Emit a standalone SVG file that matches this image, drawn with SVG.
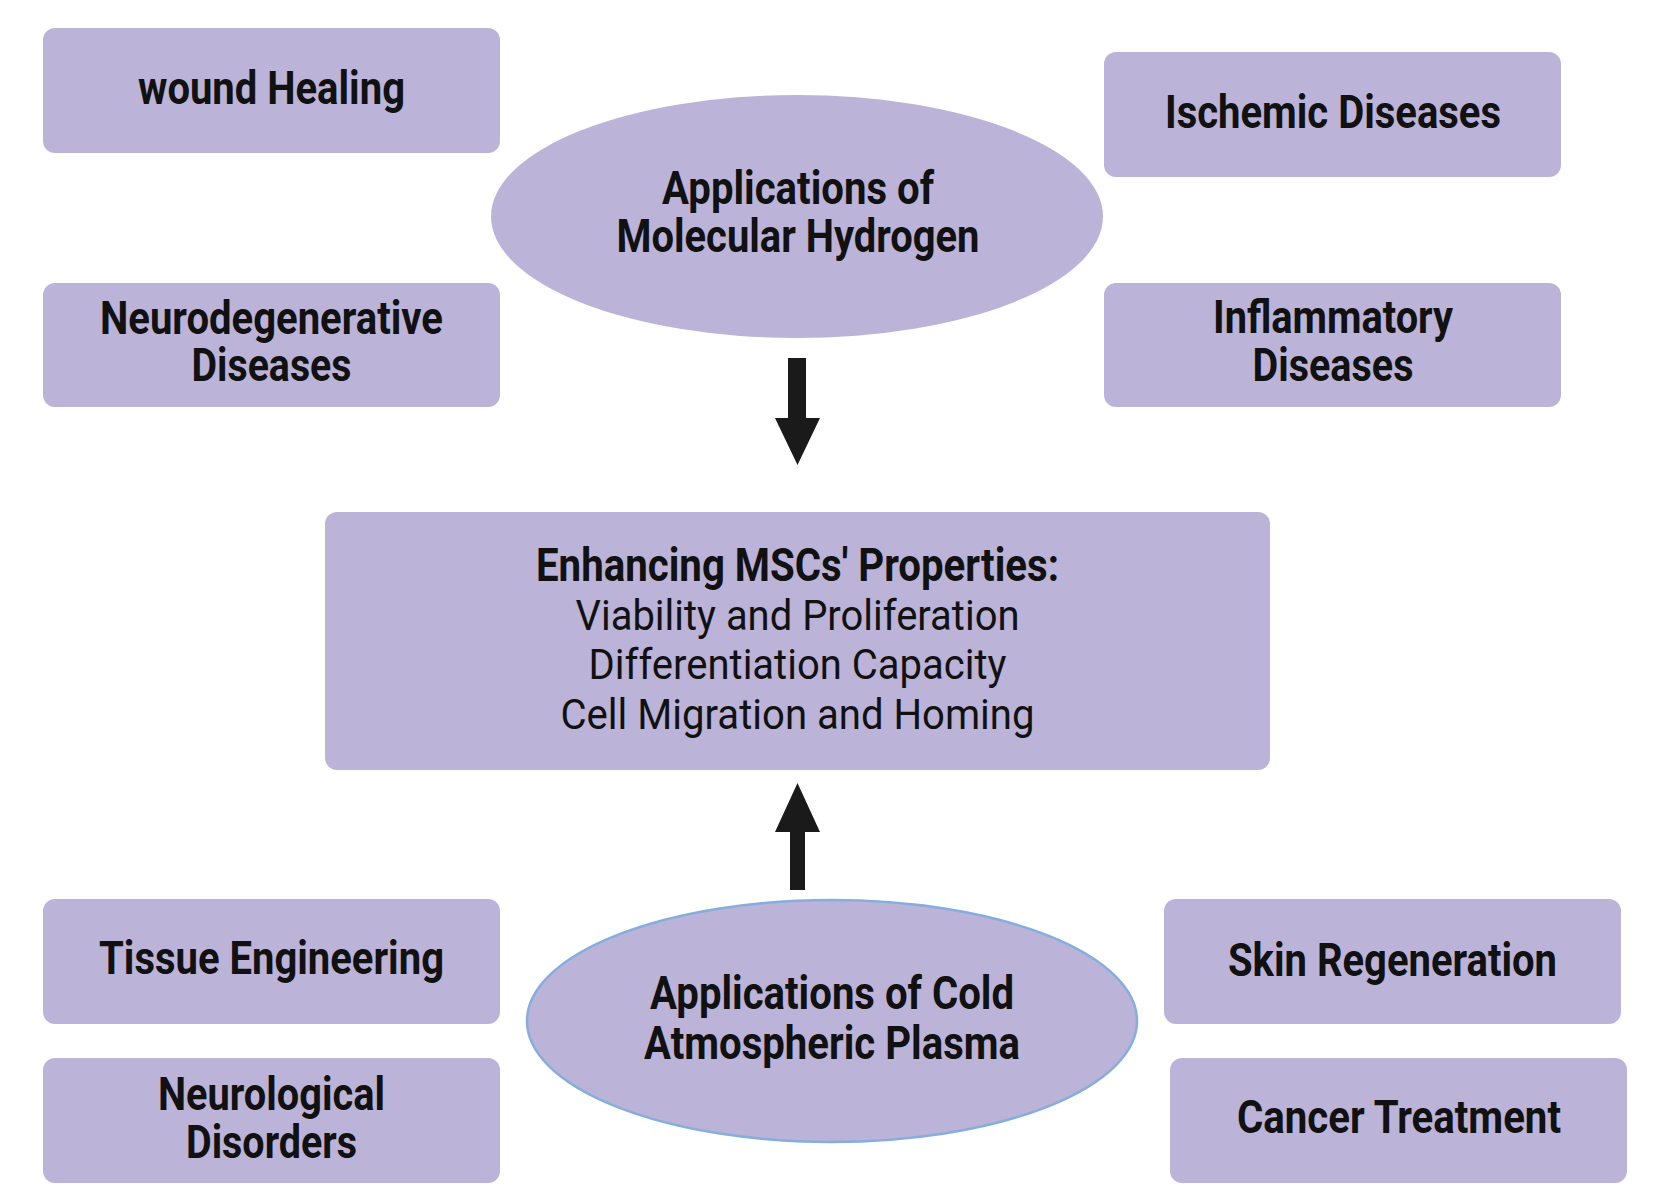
<svg xmlns="http://www.w3.org/2000/svg" width="1653" height="1203" viewBox="0 0 1653 1203">
<style>
.box{fill:#bbb3d8;}
.ell{fill:#bbb3d8;}
.t{font-family:Roboto,"Liberation Sans",sans-serif;font-weight:700;font-size:46px;fill:#111;text-anchor:middle;}
.r{font-family:Roboto,"Liberation Sans",sans-serif;font-weight:400;font-size:43px;fill:#111;text-anchor:middle;}
.arrow{fill:#1a1a1a;}
</style>
<rect width="1653" height="1203" fill="#ffffff"/>
<g id="wound-healing">
<rect class="box" x="43" y="28" width="457" height="125" rx="12"/>
<text class="t" x="271.5" y="104" textLength="267" lengthAdjust="spacingAndGlyphs">wound Healing</text>
</g>
<g id="neurodegenerative">
<rect class="box" x="43" y="283" width="457" height="124" rx="12"/>
<text class="t" x="271.5" y="334" textLength="343" lengthAdjust="spacingAndGlyphs">Neurodegenerative</text>
<text class="t" x="271.5" y="381" textLength="160" lengthAdjust="spacingAndGlyphs">Diseases</text>
</g>
<g id="ischemic">
<rect class="box" x="1104" y="52" width="457" height="125" rx="12"/>
<text class="t" x="1333" y="128" textLength="336" lengthAdjust="spacingAndGlyphs">Ischemic Diseases</text>
</g>
<g id="inflammatory">
<rect class="box" x="1104" y="283" width="457" height="124" rx="12"/>
<text class="t" x="1333" y="333" textLength="240" lengthAdjust="spacingAndGlyphs">Inflammatory</text>
<text class="t" x="1333" y="381" textLength="161" lengthAdjust="spacingAndGlyphs">Diseases</text>
</g>
<g id="hydrogen">
<ellipse class="ell" cx="797" cy="216.5" rx="306" ry="121.5"/>
<text class="t" x="798" y="204" textLength="272" lengthAdjust="spacingAndGlyphs">Applications of</text>
<text class="t" x="798" y="252" textLength="363" lengthAdjust="spacingAndGlyphs">Molecular Hydrogen</text>
</g>
<g id="mscs">
<rect class="box" x="325" y="512" width="945" height="258" rx="12"/>
<text class="t" x="797.5" y="581" textLength="523" lengthAdjust="spacingAndGlyphs">Enhancing MSCs' Properties:</text>
<text class="r" x="797.5" y="630" textLength="444" lengthAdjust="spacingAndGlyphs">Viability and Proliferation</text>
<text class="r" x="797.5" y="679" textLength="418" lengthAdjust="spacingAndGlyphs">Differentiation Capacity</text>
<text class="r" x="797.5" y="729" textLength="474" lengthAdjust="spacingAndGlyphs">Cell Migration and Homing</text>
</g>
<g id="plasma">
<ellipse class="ell" cx="832" cy="1021" rx="305" ry="121" stroke="#86aedc" stroke-width="2.5"/>
<text class="t" x="832" y="1009" textLength="364" lengthAdjust="spacingAndGlyphs">Applications of Cold</text>
<text class="t" x="832" y="1059" textLength="376" lengthAdjust="spacingAndGlyphs">Atmospheric Plasma</text>
</g>
<g id="tissue">
<rect class="box" x="43" y="899" width="457" height="125" rx="12"/>
<text class="t" x="271.5" y="974" textLength="345" lengthAdjust="spacingAndGlyphs">Tissue Engineering</text>
</g>
<g id="neurological">
<rect class="box" x="43" y="1058" width="457" height="125" rx="12"/>
<text class="t" x="271.5" y="1110" textLength="227" lengthAdjust="spacingAndGlyphs">Neurological</text>
<text class="t" x="271.5" y="1158" textLength="171" lengthAdjust="spacingAndGlyphs">Disorders</text>
</g>
<g id="skin">
<rect class="box" x="1164" y="899" width="457" height="125" rx="12"/>
<text class="t" x="1392.5" y="976" textLength="329" lengthAdjust="spacingAndGlyphs">Skin Regeneration</text>
</g>
<g id="cancer">
<rect class="box" x="1170" y="1058" width="457" height="125" rx="12"/>
<text class="t" x="1399" y="1133" textLength="324" lengthAdjust="spacingAndGlyphs">Cancer Treatment</text>
</g>
<g id="connectors">
<polygon class="arrow" points="788,358 806,358 806,418 820,418 797.5,465 775,418 788,418"/>
<polygon class="arrow" points="790,890 805,890 805,832 820,832 797.5,783 775,832 790,832"/>
</g>
</svg>
